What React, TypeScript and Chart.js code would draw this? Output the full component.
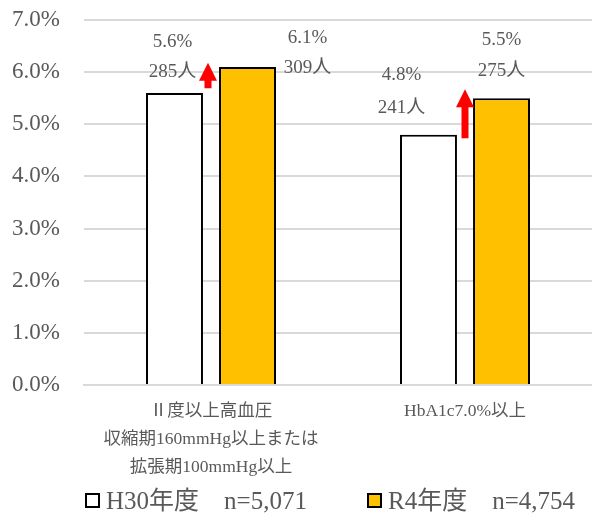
import React, { useEffect, useRef } from "react";
import { Chart, registerables } from "chart.js";

Chart.register(...registerables);

// ---- data ----
const categories: (string | string[])[] = [
  ["Ⅱ度以上高血圧", "収縮期160mmHg以上または", "拡張期100mmHg以上"],
  "HbA1c7.0%以上",
];
const seriesNames = ["H30年度　n=5,071", "R4年度　n=4,754"];
const h30Rates = [5.6, 4.8];
const r4Rates = [6.1, 5.5];
const h30Counts = [285, 241];
const r4Counts = [309, 275];
const yMin = 0;
const yMax = 7;
const yStep = 1;
// increase arrows (value from -> value to), per category
const arrowFrom = [5.69, 4.73];
const arrowTo = [6.18, 5.67];

// ---- styles ----
const FONT = "'Liberation Serif', 'Noto Sans CJK JP', serif";
const TEXT = "#595959";
const GRID = "#d9d9d9";
const ORANGE = "#FFC000";
// label offsets per dataset per bar: [dx, dyLine1, dyLine2] relative to bar top center
const labelOffsets = [
  [
    [-2, -51, -21],
    [-27, -60, -27],
  ],
  [
    [60, -29, 1],
    [0, -58, -27],
  ],
];
const arrowDx = [-3, 0];

const countsBy = [h30Counts, r4Counts];

const labelPlugin = {
  id: "barLabels",
  afterDatasetsDraw(chart: any) {
    const ctx = chart.ctx;
    ctx.save();
    ctx.font = `19px ${FONT}`;
    ctx.fillStyle = TEXT;
    ctx.textAlign = "center";
    ctx.textBaseline = "middle";
    chart.data.datasets.forEach((ds: any, di: number) => {
      const meta = chart.getDatasetMeta(di);
      meta.data.forEach((el: any, i: number) => {
        const [dx, dy1, dy2] = labelOffsets[di][i];
        const v = ds.data[i] as number;
        ctx.fillText(`${v.toFixed(1)}%`, el.x + dx, el.y + dy1);
        ctx.fillText(`${countsBy[di][i]}人`, el.x + dx, el.y + dy2);
      });
    });
    // arrows
    const xs = chart.scales.x;
    const ys = chart.scales.y;
    ctx.fillStyle = "#FF0000";
    arrowFrom.forEach((from, i) => {
      const cx = xs.getPixelForValue(i) + arrowDx[i];
      const yb = ys.getPixelForValue(from);
      const yt = ys.getPixelForValue(arrowTo[i]);
      const headH = 18;
      const headW = 9;
      const shaftW = 3.5;
      ctx.beginPath();
      ctx.moveTo(cx, yt);
      ctx.lineTo(cx + headW, yt + headH);
      ctx.lineTo(cx + shaftW, yt + headH);
      ctx.lineTo(cx + shaftW, yb);
      ctx.lineTo(cx - shaftW, yb);
      ctx.lineTo(cx - shaftW, yt + headH);
      ctx.lineTo(cx - headW, yt + headH);
      ctx.closePath();
      ctx.fill();
    });
    ctx.restore();
  },
};

const legendPlugin = {
  id: "customLegend",
  afterDraw(chart: any) {
    const ctx = chart.ctx;
    const positions = [85, 367];
    const cy = 501;
    ctx.save();
    chart.data.datasets.forEach((ds: any, di: number) => {
      const x = positions[di];
      ctx.fillStyle = ds.backgroundColor;
      ctx.fillRect(x + 1, cy - 7, 13, 13);
      ctx.strokeStyle = "#000";
      ctx.lineWidth = 2;
      ctx.strokeRect(x + 1, cy - 7, 13, 13);
      ctx.fillStyle = TEXT;
      ctx.font = `25px ${FONT}`;
      ctx.textAlign = "left";
      ctx.textBaseline = "middle";
      ctx.fillText(ds.label, x + 21, cy + 1);
    });
    ctx.restore();
  },
};

export default function App() {
  const canvasRef = useRef<HTMLCanvasElement | null>(null);

  useEffect(() => {
    document.body.style.margin = "0";
    const canvas = canvasRef.current;
    if (!canvas) return;
    const chart = new Chart(canvas, {
      type: "bar",
      data: {
        labels: categories as any,
        datasets: [
          {
            label: seriesNames[0],
            data: h30Rates,
            backgroundColor: "#FFFFFF",
            borderColor: "#000000",
            borderWidth: 2,
            barPercentage: 0.78,
            categoryPercentage: 0.575,
          },
          {
            label: seriesNames[1],
            data: r4Rates,
            backgroundColor: ORANGE,
            borderColor: "#000000",
            borderWidth: 2,
            barPercentage: 0.78,
            categoryPercentage: 0.575,
          },
        ],
      },
      options: {
        responsive: false,
        animation: false,
        devicePixelRatio: 1,
        layout: { padding: { top: 20, left: 0, right: 0, bottom: 43 } },
        plugins: {
          legend: { display: false },
          tooltip: { enabled: false },
        },
        scales: {
          x: {
            grid: { display: false, drawTicks: false },
            border: { display: true, color: GRID, width: 2 },
            ticks: {
              color: TEXT,
              font: { family: FONT, size: 17.5, lineHeight: 1.6 },
              padding: 12,
              autoSkip: false,
              maxRotation: 0,
              minRotation: 0,
            },
            afterFit(scale: any) {
              scale.height = 92;
            },
          },
          y: {
            min: yMin,
            max: yMax,
            grid: { color: GRID, lineWidth: 2, drawTicks: false },
            border: { display: false },
            ticks: {
              stepSize: yStep,
              color: TEXT,
              font: { family: FONT, size: 23 },
              padding: 24,
              callback: (v: any) => `${Number(v).toFixed(1)}%`,
            },
            afterFit(scale: any) {
              scale.width = 84;
              scale.paddingTop = 10;
              scale.paddingBottom = 10;
            },
          },
        },
      },
      plugins: [labelPlugin, legendPlugin],
    });
    return () => chart.destroy();
  }, []);

  return (
    <div style={{ width: 592, height: 520 }}>
      <canvas ref={canvasRef} width={592} height={520} style={{ display: "block" }} />
    </div>
  );
}
